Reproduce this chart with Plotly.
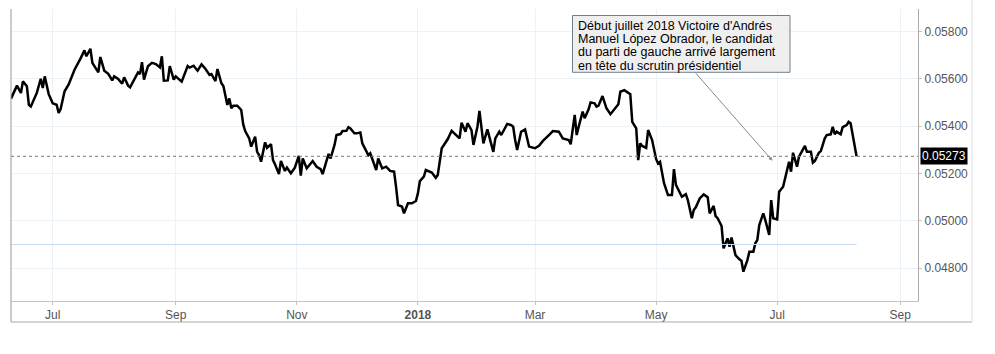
import plotly.graph_objects as go

# ---- data ----
dates = [
    "2017-06-10", "2017-06-13", "2017-06-15", "2017-06-16", "2017-06-18", "2017-06-19", "2017-06-20",
    "2017-06-23", "2017-06-25", "2017-06-26", "2017-06-27", "2017-06-29", "2017-07-01", "2017-07-03",
    "2017-07-04", "2017-07-05", "2017-07-07", "2017-07-09", "2017-07-12", "2017-07-14", "2017-07-15",
    "2017-07-17", "2017-07-18", "2017-07-20", "2017-07-21", "2017-07-24", "2017-07-25", "2017-07-27",
    "2017-07-29", "2017-07-31", "2017-08-01", "2017-08-03", "2017-08-05", "2017-08-06", "2017-08-08",
    "2017-08-09", "2017-08-12", "2017-08-13", "2017-08-14", "2017-08-15", "2017-08-16", "2017-08-18",
    "2017-08-20", "2017-08-22", "2017-08-24", "2017-08-25", "2017-08-26", "2017-08-28", "2017-08-29",
    "2017-08-31", "2017-09-01", "2017-09-03", "2017-09-04", "2017-09-07", "2017-09-08", "2017-09-10",
    "2017-09-12", "2017-09-14", "2017-09-16", "2017-09-18", "2017-09-19", "2017-09-21", "2017-09-22",
    "2017-09-24", "2017-09-25", "2017-09-27", "2017-09-28", "2017-09-29", "2017-09-30", "2017-10-02",
    "2017-10-04", "2017-10-05", "2017-10-06", "2017-10-08", "2017-10-09", "2017-10-11", "2017-10-12",
    "2017-10-13", "2017-10-14", "2017-10-16", "2017-10-17", "2017-10-19", "2017-10-20", "2017-10-21",
    "2017-10-23", "2017-10-24", "2017-10-26", "2017-10-27", "2017-10-29", "2017-10-31", "2017-11-02",
    "2017-11-03", "2017-11-04", "2017-11-06", "2017-11-09", "2017-11-11", "2017-11-13", "2017-11-14",
    "2017-11-16", "2017-11-17", "2017-11-18", "2017-11-20", "2017-11-21", "2017-11-23", "2017-11-24",
    "2017-11-26", "2017-11-27", "2017-11-28", "2017-11-30", "2017-12-01", "2017-12-03", "2017-12-04",
    "2017-12-07", "2017-12-08", "2017-12-11", "2017-12-12", "2017-12-14", "2017-12-16", "2017-12-18",
    "2017-12-20", "2017-12-21", "2017-12-22", "2017-12-24", "2017-12-25", "2017-12-27", "2017-12-29",
    "2017-12-31", "2018-01-01", "2018-01-02", "2018-01-04", "2018-01-05", "2018-01-08", "2018-01-10",
    "2018-01-11", "2018-01-13", "2018-01-16", "2018-01-18", "2018-01-20", "2018-01-22", "2018-01-23",
    "2018-01-25", "2018-01-26", "2018-01-28", "2018-01-29", "2018-01-31", "2018-02-01", "2018-02-02",
    "2018-02-03", "2018-02-05", "2018-02-07", "2018-02-08", "2018-02-09", "2018-02-11", "2018-02-12",
    "2018-02-15", "2018-02-17", "2018-02-18", "2018-02-19", "2018-02-20", "2018-02-22", "2018-02-24",
    "2018-02-26", "2018-03-01", "2018-03-03", "2018-03-05", "2018-03-08", "2018-03-10", "2018-03-13",
    "2018-03-15", "2018-03-18", "2018-03-19", "2018-03-21", "2018-03-22", "2018-03-23", "2018-03-25",
    "2018-03-26", "2018-03-28", "2018-03-29", "2018-03-31", "2018-04-01", "2018-04-02", "2018-04-04",
    "2018-04-06", "2018-04-08", "2018-04-10", "2018-04-12", "2018-04-13", "2018-04-15", "2018-04-18",
    "2018-04-19", "2018-04-21", "2018-04-22", "2018-04-23", "2018-04-24", "2018-04-26", "2018-04-27",
    "2018-04-29", "2018-05-01", "2018-05-02", "2018-05-03", "2018-05-05", "2018-05-07", "2018-05-09",
    "2018-05-10", "2018-05-11", "2018-05-14", "2018-05-16", "2018-05-17", "2018-05-19", "2018-05-20",
    "2018-05-21", "2018-05-23", "2018-05-25", "2018-05-27", "2018-05-28", "2018-05-30", "2018-05-31",
    "2018-06-01", "2018-06-03", "2018-06-04", "2018-06-06", "2018-06-07", "2018-06-08", "2018-06-10",
    "2018-06-12", "2018-06-13", "2018-06-14", "2018-06-16", "2018-06-17", "2018-06-19", "2018-06-20",
    "2018-06-21", "2018-06-22", "2018-06-24", "2018-06-25", "2018-06-27", "2018-06-28", "2018-06-29",
    "2018-07-01", "2018-07-02", "2018-07-04", "2018-07-07", "2018-07-08", "2018-07-09", "2018-07-11",
    "2018-07-12", "2018-07-15", "2018-07-16", "2018-07-18", "2018-07-19", "2018-07-20", "2018-07-22",
    "2018-07-23", "2018-07-25", "2018-07-26", "2018-07-28", "2018-07-29", "2018-07-30", "2018-07-31",
    "2018-08-02", "2018-08-03", "2018-08-05", "2018-08-06", "2018-08-07", "2018-08-10",
]

rates = [
    0.05517, 0.05572, 0.05541, 0.05590, 0.05569, 0.05491, 0.05484,
    0.05541, 0.05601, 0.05562, 0.05611, 0.05536, 0.05497, 0.05491,
    0.05456, 0.05473, 0.05548, 0.05576, 0.05639, 0.05675, 0.05686,
    0.05721, 0.05696, 0.05728, 0.05668, 0.05628, 0.05693, 0.05635,
    0.05622, 0.05594, 0.05611, 0.05600, 0.05580, 0.05607, 0.05572,
    0.05565, 0.05611, 0.05628, 0.05621, 0.05671, 0.05597, 0.05654,
    0.05668, 0.05663, 0.05649, 0.05696, 0.05593, 0.05594, 0.05654,
    0.05597, 0.05611, 0.05597, 0.05589, 0.05655, 0.05648, 0.05656,
    0.05635, 0.05662, 0.05642, 0.05617, 0.05621, 0.05591, 0.05642,
    0.05582, 0.05570, 0.05490, 0.05518, 0.05476, 0.05487, 0.05487,
    0.05469, 0.05408, 0.05380, 0.05349, 0.05314, 0.05356, 0.05292,
    0.05278, 0.05250, 0.05332, 0.05309, 0.05324, 0.05257, 0.05239,
    0.05198, 0.05253, 0.05211, 0.05225, 0.05201, 0.05225, 0.05275,
    0.05191, 0.05264, 0.05222, 0.05253, 0.05229, 0.05219, 0.05198,
    0.05250, 0.05283, 0.05264, 0.05321, 0.05363, 0.05367, 0.05380,
    0.05381, 0.05396, 0.05391, 0.05370, 0.05370, 0.05374, 0.05328,
    0.05278, 0.05286, 0.05215, 0.05264, 0.05222, 0.05229, 0.05211,
    0.05208, 0.05144, 0.05067, 0.05060, 0.05032, 0.05074, 0.05074,
    0.05084, 0.05116, 0.05168, 0.05187, 0.05215, 0.05204, 0.05182,
    0.05194, 0.05307, 0.05345, 0.05381, 0.05363, 0.05349, 0.05415,
    0.05377, 0.05413, 0.05384, 0.05321, 0.05398, 0.05465, 0.05398,
    0.05328, 0.05387, 0.05328, 0.05292, 0.05349, 0.05377, 0.05363,
    0.05410, 0.05405, 0.05398, 0.05342, 0.05300, 0.05377, 0.05387,
    0.05314, 0.05307, 0.05317, 0.05338, 0.05363, 0.05380, 0.05377,
    0.05349, 0.05342, 0.05324, 0.05448, 0.05363, 0.05398, 0.05462,
    0.05434, 0.05472, 0.05501, 0.05497, 0.05483, 0.05487, 0.05528,
    0.05476, 0.05451, 0.05472, 0.05493, 0.05546, 0.05553, 0.05536,
    0.05419, 0.05391, 0.05257, 0.05328, 0.05317, 0.05309, 0.05384,
    0.05342, 0.05262, 0.05243, 0.05250, 0.05159, 0.05109, 0.05109,
    0.05219, 0.05152, 0.05102, 0.05113, 0.05088, 0.05011, 0.05046,
    0.05057, 0.05095, 0.05112, 0.05100, 0.05032, 0.05063, 0.05020,
    0.05011, 0.04978, 0.04884, 0.04926, 0.04891, 0.04929, 0.04855,
    0.04837, 0.04831, 0.04785, 0.04834, 0.04869, 0.04869, 0.04905,
    0.04919, 0.04982, 0.05032, 0.05004, 0.04940, 0.05088, 0.05011,
    0.05006, 0.05123, 0.05144, 0.05250, 0.05208, 0.05288, 0.05229,
    0.05271, 0.05317, 0.05292, 0.05292, 0.05246, 0.05253, 0.05288,
    0.05295, 0.05349, 0.05363, 0.05366, 0.05398, 0.05367, 0.05377,
    0.05366, 0.05396, 0.05405, 0.05419, 0.05413, 0.05273,
]

tick_dates = ["2017-07-01", "2017-09-01", "2017-11-01", "2018-01-01",
              "2018-03-01", "2018-05-01", "2018-07-01", "2018-09-01"]
tick_labels = ["Jul", "Sep", "Nov", "<b>2018</b>", "Mar", "May", "Jul", "Sep"]

y_tick_vals = [0.048, 0.050, 0.052, 0.054, 0.056, 0.058]

reference_level = 0.0490

note_lines = [
    "Début juillet 2018 Victoire d'Andrés",
    "Manuel López Obrador, le candidat",
    "du parti de gauche arrivé largement",
    "en tête du scrutin présidentiel",
]
note_target_date = "2018-06-28 16:00"
note_target_value = 0.05254

# ---- figure ----
FONT = "Arial, 'Liberation Sans', sans-serif"
W, H = 995, 354
L, R, T, B = 11, 77, 9, 53
pw, ph = W - L - R, H - T - B


def px_x(px):
    return (px - L) / pw


def px_y(py):
    return (H - B - py) / ph


fig = go.Figure()

fig.add_trace(go.Scatter(
    x=dates, y=rates, mode="lines",
    line=dict(color="black", width=2.5),
    hoverinfo="x+y", showlegend=False,
))

shapes = [
    # light blue level line over the data span
    dict(type="line", xref="x", yref="y", x0=dates[0], x1=dates[-1],
         y0=reference_level, y1=reference_level,
         line=dict(color="#c6dbef", width=1)),
    # dotted last-value line
    dict(type="line", xref="paper", yref="y", x0=0, x1=1,
         y0=rates[-1], y1=rates[-1],
         line=dict(color="#777777", width=1, dash="dot")),
    # left border of the chart
    dict(type="line", xref="paper", yref="paper", x0=0, x1=0,
         y0=px_y(322), y1=1, line=dict(color="#999999", width=1)),
    # outer frame bottom and right
    dict(type="line", xref="paper", yref="paper", x0=0, x1=px_x(972),
         y0=px_y(322), y1=px_y(322), line=dict(color="#aaaaaa", width=1)),
    dict(type="line", xref="paper", yref="paper", x0=px_x(972), x1=px_x(972),
         y0=px_y(322), y1=px_y(0), line=dict(color="#dddddd", width=1)),
    # note box
    dict(type="rect", xref="paper", yref="paper",
         x0=px_x(572.5), x1=px_x(790), y0=px_y(72.3), y1=px_y(15.5),
         fillcolor="#efefef", line=dict(color="#6f7d8c", width=1), layer="above"),
]

annotations = []
line_centers = [25.7, 39.0, 52.4, 65.6]
for txt, cy in zip(note_lines, line_centers):
    annotations.append(dict(
        xref="paper", yref="paper", x=px_x(576), y=px_y(cy),
        xanchor="left", yanchor="middle", text=txt, showarrow=False,
        font=dict(family=FONT, size=12.5, color="black"),
    ))

# arrow from the note box to the date of the election
annotations.append(dict(
    xref="x", yref="y", x=note_target_date, y=note_target_value,
    text="", showarrow=True, axref="pixel", ayref="pixel",
    ax=-78, ay=-89, arrowhead=2, arrowsize=0.8, arrowwidth=1,
    arrowcolor="#8a8a8a",
))

# last value label
annotations.append(dict(
    xref="paper", yref="y", x=1, y=rates[-1], xanchor="left", yanchor="middle",
    xshift=2, text=f"{rates[-1]:.5f}", showarrow=False, bgcolor="black",
    borderpad=1, font=dict(family=FONT, size=12, color="white"),
))

fig.update_layout(
    width=W, height=H,
    margin=dict(l=L, r=R, t=T, b=B, pad=0),
    paper_bgcolor="white", plot_bgcolor="white",
    showlegend=False,
    shapes=shapes, annotations=annotations,
    xaxis=dict(
        type="date", range=["2017-06-10", "2018-09-09 23:00"],
        tickvals=tick_dates, ticktext=tick_labels,
        tickfont=dict(family=FONT, size=12, color="#555555"),
        showgrid=True, gridcolor="#edf2f7", gridwidth=1,
        showline=True, linecolor="#c4c4c4", linewidth=1,
        ticks="outside", ticklen=3, tickcolor="#c4c4c4",
        zeroline=False, automargin=False,
    ),
    yaxis=dict(
        side="right", range=[0.04661, 0.05896],
        tickvals=y_tick_vals, tickformat=".5f",
        tickfont=dict(family=FONT, size=12, color="#555555"),
        showgrid=True, gridcolor="#edf2f7", gridwidth=1,
        showline=True, linecolor="#aaaaaa", linewidth=1,
        ticks="outside", ticklen=3, tickcolor="#c4c4c4",
        zeroline=False, automargin=False,
    ),
)

fig.write_html("out.html")
